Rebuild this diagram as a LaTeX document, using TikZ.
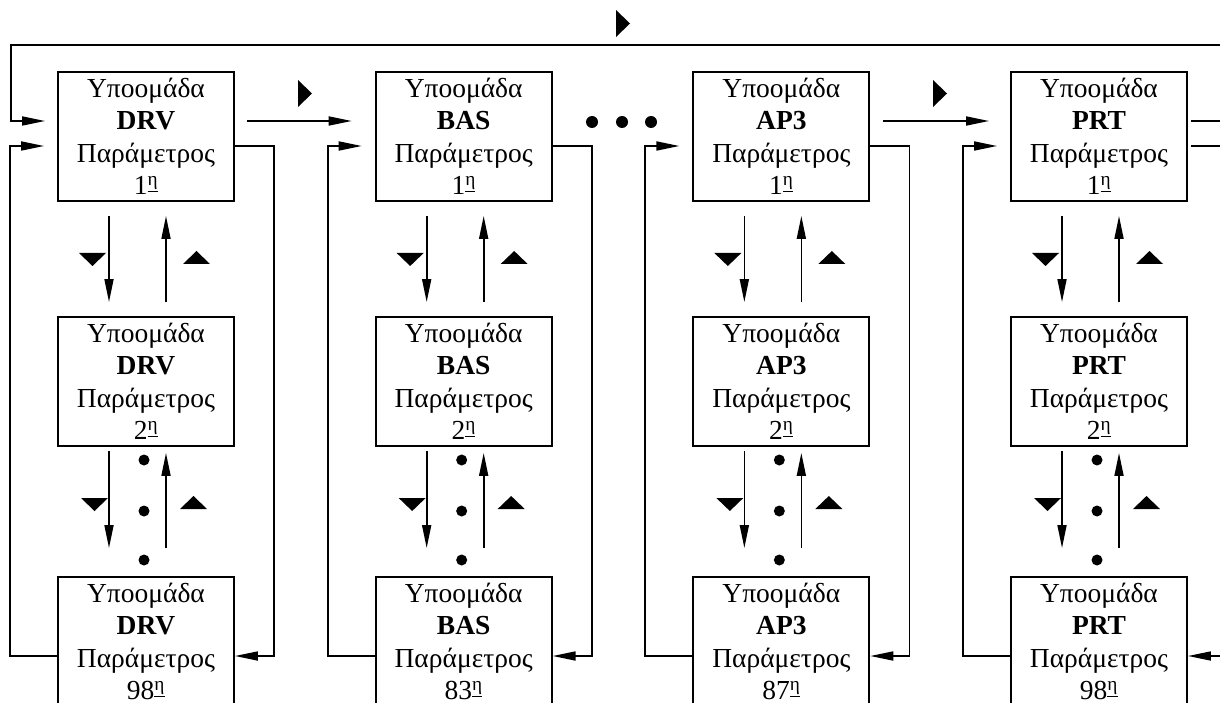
\documentclass[tikz,border=0pt]{standalone}
\usepackage{fontspec}
\setmainfont{Liberation Serif}
\usetikzlibrary{arrows.meta}
\tikzset{
  pbox/.style={draw, line width=1.9pt, minimum width=176pt, minimum height=129pt, inner sep=0pt, align=center, font=\fontsize{27.5}{32.5}\selectfont},
  conn/.style={line width=1.7pt},
  arr/.style={conn, -{Triangle[length=23pt,width=9pt]}},
  marker/.style={fill=black},
  dotmark/.style={fill=black}
}
\begin{document}
\begin{tikzpicture}[x=1pt,y=-1pt]
\useasboundingbox (0,0) rectangle (1220,703);
\clip (0,0) rectangle (1220,703);
\foreach \i/\nm/\last in {0/DRV/98, 1/BAS/83, 2/AP3/87, 3/PRT/98} {
  \pgfmathsetmacro\L{58+317.67*\i}
  \node[pbox] (t\i) at (\L+88,136.5) {Υποομάδα\\\textbf{\nm}\\Παράμετρος\\1\textsuperscript{\underline{η}}};
  \node[pbox] (m\i) at (\L+88,381.5) {Υποομάδα\\\textbf{\nm}\\Παράμετρος\\2\textsuperscript{\underline{η}}};
  \node[pbox] (b\i) at (\L+88,641.5) {Υποομάδα\\\textbf{\nm}\\Παράμετρος\\\last\textsuperscript{\underline{η}}};
  % vertical arrows
  \draw[arr] ([xshift=-37pt,yshift=-14pt]t\i.south) -- ([xshift=-37pt,yshift=14pt]m\i.north);
  \draw[arr] ([xshift=20pt,yshift=14pt]m\i.north) -- ([xshift=20pt,yshift=-14pt]t\i.south);
  \draw[arr] ([xshift=-37pt,yshift=-4pt]m\i.south) -- ([xshift=-37pt,yshift=28pt]b\i.north);
  \draw[arr] ([xshift=20pt,yshift=28pt]b\i.north) -- ([xshift=20pt,yshift=-6pt]m\i.south);
  % markers
  \fill[marker] (\L+21,253) -- (\L+48,253) -- (\L+34.5,266) -- cycle;
  \fill[marker] (\L+125,264) -- (\L+152,264) -- (\L+138.5,251) -- cycle;
  \fill[marker] (\L+23,498) -- (\L+50,498) -- (\L+36.5,511) -- cycle;
  \fill[marker] (\L+122,509) -- (\L+149,509) -- (\L+135.5,496) -- cycle;
  % vertical dots
  \fill[dotmark] (\L+86,460) circle (5.5);
  \fill[dotmark] (\L+86,511) circle (5.5);
  \fill[dotmark] (\L+86,560) circle (5.5);
  % feedback loop on the left
  \draw[arr] ([yshift=-14.5pt]b\i.west) -| (\L-48,146) -- ([xshift=-13pt,yshift=-9.5pt]t\i.west);
}
% exits on the right of columns 0..2
\foreach \i in {0,1,2} {
  \pgfmathsetmacro\L{58+317.67*\i}
  \draw[arr] ([yshift=-9.5pt]t\i.east) -| (\L+216,656) -- ([yshift=-14.5pt]b\i.east);
}
% right edge of PRT column
\coordinate (e1) at (1222,121);
\coordinate (e2) at (1222,146);
\coordinate (e3) at (1222,656);
\coordinate (topR) at (1222,45);
\draw[conn] ([xshift=3pt,yshift=15.5pt]t3.east) -- (e1);
\draw[conn] ([xshift=3pt,yshift=-9.5pt]t3.east) -- (e2);
\draw[arr] (e3) -- ([yshift=-14.5pt]b3.east);
% top loop
\draw[arr] (topR) -- (11,45) -- (11,121) -- ([xshift=-12pt,yshift=15.5pt]t0.west);
% horizontal arrows between columns
\draw[arr] ([xshift=12pt,yshift=15.5pt]t0.east) -- ([xshift=-23pt,yshift=15.5pt]t1.west);
\draw[arr] ([xshift=13pt,yshift=15.5pt]t2.east) -- ([xshift=-21pt,yshift=15.5pt]t3.west);
% horizontal markers
\fill[marker] (298,80) -- (298,107) -- (312,93.5) -- cycle;
\fill[marker] (933,80) -- (933,107) -- (947,93.5) -- cycle;
\fill[marker] (616,10) -- (616,37) -- (630,23.5) -- cycle;
% horizontal dots
\fill[dotmark] (592,122) circle (6);
\fill[dotmark] (622,122) circle (6);
\fill[dotmark] (651,122) circle (6);
\end{tikzpicture}
\end{document}
